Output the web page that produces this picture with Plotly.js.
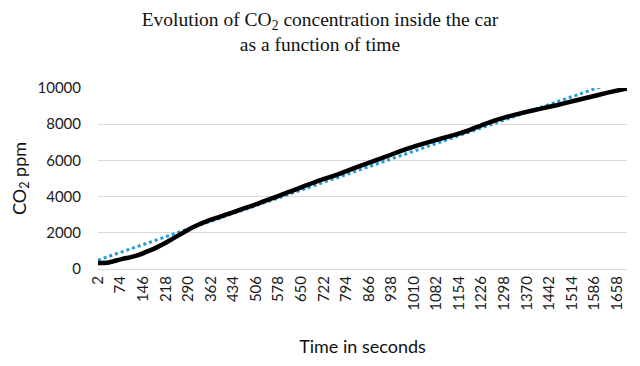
<!DOCTYPE html>
<html>
<head>
<meta charset="utf-8">
<script src="https://cdn.plot.ly/plotly-3.0.1.min.js"></script>
<style>html,body{margin:0;padding:0;background:#fff;}#chart{width:640px;height:366px;}</style>
</head>
<body>
<div id="chart"></div>
<script>
// Measured CO2 concentration (ppm) over time (s)
const timeSeconds = [2, 30, 50, 80, 110, 135, 160, 188, 215, 241, 268, 294, 320, 348, 390, 430, 470, 510, 550, 603, 656, 709, 763, 805, 859, 912, 965, 1019, 1071, 1125, 1178, 1242, 1306, 1359, 1412, 1465, 1519, 1572, 1625, 1690];
const co2ppm = [330, 340, 420, 560, 670, 800, 970, 1180, 1420, 1680, 1950, 2210, 2430, 2630, 2880, 3120, 3360, 3600, 3860, 4200, 4550, 4900, 5200, 5480, 5820, 6150, 6500, 6820, 7080, 7340, 7620, 8050, 8400, 8640, 8850, 9050, 9280, 9500, 9730, 9980];
// Linear trendline endpoints
const trendTime = [2, 1690];
const trendPpm = [490, 10570];
// Category tick labels
const tickSeconds = [2, 74, 146, 218, 290, 362, 434, 506, 578, 650, 722, 794, 866, 938, 1010, 1082, 1154, 1226, 1298, 1370, 1442, 1514, 1586, 1658];
const yTicks = [0, 2000, 4000, 6000, 8000, 10000];

const traces = [
  {x: trendTime, y: trendPpm, type: 'scatter', mode: 'lines',
   line: {color: '#1f9bd8', width: 3, dash: 'dot'}, hoverinfo: 'skip', showlegend: false},
  {x: timeSeconds, y: co2ppm, type: 'scatter', mode: 'lines',
   line: {color: '#000000', width: 4.5, shape: 'spline', smoothing: 0.5}, showlegend: false}
];

const layout = {
  width: 640, height: 366,
  margin: {l: 98, r: 13, t: 88, b: 97},
  paper_bgcolor: '#ffffff', plot_bgcolor: '#ffffff',
  font: {family: 'Lato, "Open Sans", sans-serif', color: '#1a1a1a', size: 14},
  title: {
    text: 'Evolution of CO<sub>2</sub> concentration inside the car<br>as a function of time',
    font: {family: '"Liberation Serif", "DejaVu Serif", serif', size: 19.5, color: '#111'},
    x: 0.5, xref: 'container', xanchor: 'center',
    y: 0.93, yref: 'container', yanchor: 'middle'
  },
  xaxis: {
    range: [2, 1690], tickmode: 'array', tickvals: tickSeconds, ticktext: tickSeconds.map(String),
    tickangle: -90, showgrid: false, zeroline: false,
    showline: true, linecolor: '#d9d9d9', linewidth: 1, ticks: '',
    tickfont: {size: 15, family: 'Lato, sans-serif', color: '#1a1a1a'},
    title: {text: 'Time in seconds', font: {size: 18, family: 'Lato, sans-serif', color: '#111'}, standoff: 30}
  },
  yaxis: {
    range: [0, 10000], tickmode: 'array', tickvals: yTicks, ticktext: yTicks.map(String),
    showgrid: true, gridcolor: '#d9d9d9', gridwidth: 1, zeroline: false, showline: false, ticks: '',
    ticklabelstandoff: 16,
    tickfont: {size: 15, family: 'Lato, sans-serif', color: '#1a1a1a'},
    title: {text: 'CO<sub>2</sub> ppm', font: {size: 18, family: 'Lato, sans-serif', color: '#111'}, standoff: 6}
  }
};

Plotly.newPlot('chart', traces, layout, {displayModeBar: false, staticPlot: true});
</script>
</body>
</html>
